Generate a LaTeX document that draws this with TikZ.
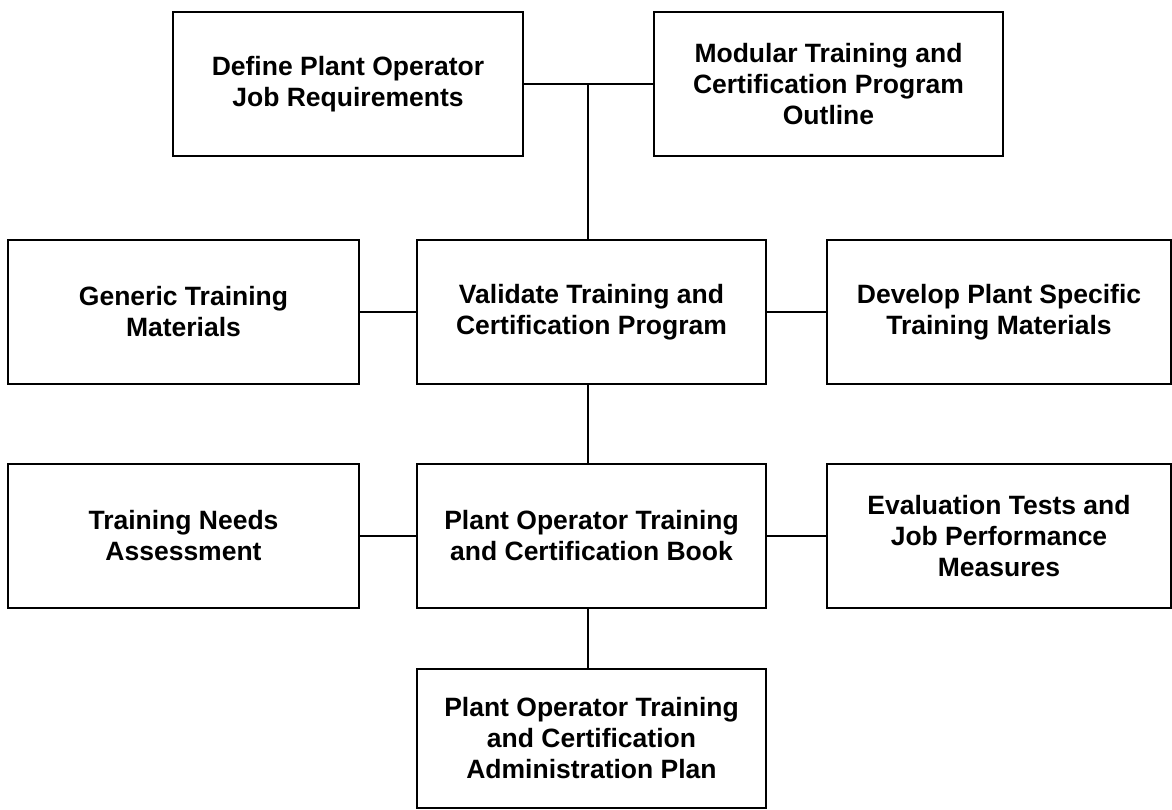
\documentclass[tikz,border=0pt]{standalone}
\usepackage{fontspec}
\setmainfont{Liberation Sans}
\begin{document}
\begin{tikzpicture}[x=1pt,y=-1pt,
  box/.style={draw=black, line width=1.6pt, rectangle, align=center, inner sep=0pt,
    font=\bfseries\fontsize{26.5}{31}\selectfont, minimum height=144pt},
  conn/.style={draw=black, line width=1.3pt}]
\useasboundingbox (0,0) rectangle (1172,809);
\node[box, minimum width=350pt] (define) at (348,84) {Define Plant Operator\\Job Requirements};
\node[box, minimum width=349pt] (modular) at (828.5,84) {Modular Training and\\Certification Program\\Outline};
\node[box, minimum width=351pt] (generic) at (183.5,312) {Generic Training\\Materials};
\node[box, minimum width=349pt] (validate) at (591.5,312) {Validate Training and\\Certification Program};
\node[box, minimum width=344pt] (develop) at (999,312) {Develop Plant Specific\\Training Materials};
\node[box, minimum width=351pt] (needs) at (183.5,536) {Training Needs\\Assessment};
\node[box, minimum width=349pt] (book) at (591.5,536) {Plant Operator Training\\and Certification Book};
\node[box, minimum width=344pt] (eval) at (999,536) {Evaluation Tests and\\Job Performance\\Measures};
\node[box, minimum width=349pt, minimum height=139pt] (admin) at (591.5,738.5) {Plant Operator Training\\and Certification\\Administration Plan};
\coordinate (jx) at (588,84);
\draw[conn] (define.east) -- (modular.west);
\draw[conn] (jx) -- (validate.north -| jx);
\draw[conn] (generic.east) -- (validate.west);
\draw[conn] (validate.east) -- (develop.west);
\draw[conn] (validate.south -| jx) -- (book.north -| jx);
\draw[conn] (needs.east) -- (book.west);
\draw[conn] (book.east) -- (eval.west);
\draw[conn] (book.south -| jx) -- (admin.north -| jx);
\end{tikzpicture}
\end{document}
